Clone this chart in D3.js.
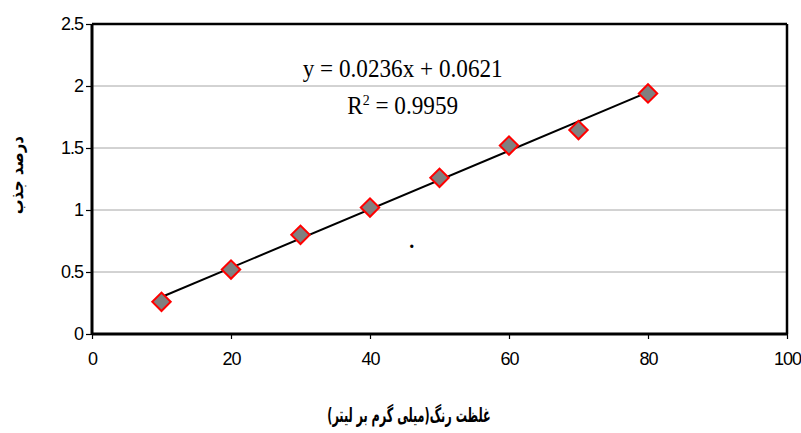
<!DOCTYPE html>
<html>
<head>
<meta charset="utf-8">
<script src="https://cdn.jsdelivr.net/npm/d3@7"></script>
<style>
  body { margin: 0; background: #fff; }
  svg { display: block; }
</style>
</head>
<body>
<svg width="801" height="433"></svg>
<script>
'use strict'

// concentration (mg/L) and absorbance (%)
var concentrations = [10, 20, 30, 40, 50, 60, 70, 80];
var absorbance = [0.26, 0.52, 0.80, 1.02, 1.26, 1.52, 1.645, 1.94];

var xTicks = [0, 20, 40, 60, 80, 100];
var yTicks = [0, 0.5, 1, 1.5, 2, 2.5];

// trendline as printed on the chart
var slope = 0.0236, intercept = 0.0621;
var equationText = "y = 0.0236x + 0.0621";
var r2Value = "0.9959";

var xLabel = "غلظت رنگ(میلی گرم بر لیتر)";
var yLabel = "درصد جذب";

var svg = d3.select("svg"),
  margin = { top: 24, right: 14, bottom: 99, left: 92 },
  width = +svg.attr("width") - margin.left - margin.right,
  height = +svg.attr("height") - margin.top - margin.bottom;

var x = d3.scaleLinear().domain([0, 100]).range([0, width]),
  y = d3.scaleLinear().domain([0, 2.5]).range([height, 0]);

var g = svg.append("g")
  .attr("transform", "translate(" + margin.left + "," + margin.top + ")");

// grid lines
g.selectAll(".grid")
  .data(yTicks.filter(function(d) { return d > 0 && d < 2.5; }))
  .enter()
  .append("line")
  .attr("class", "grid")
  .attr("x1", 0)
  .attr("x2", width)
  .attr("y1", function(d) { return y(d); })
  .attr("y2", function(d) { return y(d); })
  .attr("stroke", "#a6a6a6")
  .attr("stroke-width", 1);

// frame top / right
g.append("line")
  .attr("x1", 0).attr("x2", width)
  .attr("y1", 0).attr("y2", 0)
  .attr("stroke", "#000").attr("stroke-width", 2.5);
g.append("line")
  .attr("x1", width).attr("x2", width)
  .attr("y1", 0).attr("y2", height)
  .attr("stroke", "#000").attr("stroke-width", 2.5);

var xAxis = d3.axisBottom(x).tickValues(xTicks).tickSize(5).tickPadding(13)
  .tickFormat(d3.format("d"));
var yAxis = d3.axisLeft(y).tickValues(yTicks).tickSize(6).tickPadding(3)
  .tickFormat(function(d) { return d3.format("")(d); });

var gx = g.append("g")
  .attr("transform", "translate(0," + height + ")")
  .call(xAxis);
var gy = g.append("g").call(yAxis);

[gx, gy].forEach(function(a) {
  a.attr("font-family", "'Liberation Sans', Arial, sans-serif")
    .attr("font-size", 18);
  a.select(".domain").attr("stroke", "#000").attr("stroke-width", 3);
  a.selectAll(".tick line").attr("stroke", "#000").attr("stroke-width", 1.2);
  a.selectAll(".tick text").attr("fill", "#000").attr("letter-spacing", "-1px");
});
gy.select(".domain").attr("d", "M0," + height + "V0");
gx.select(".domain").attr("d", "M0,0H" + width);

// trendline
var xs = d3.extent(concentrations);
g.append("line")
  .attr("x1", x(xs[0]))
  .attr("y1", y(slope * xs[0] + intercept))
  .attr("x2", x(xs[1]))
  .attr("y2", y(slope * xs[1] + intercept))
  .attr("stroke", "#000")
  .attr("stroke-width", 2);

// diamond markers
var diamond = d3.symbol().type(d3.symbolSquare).size(170);
g.selectAll(".pt")
  .data(concentrations)
  .enter()
  .append("path")
  .attr("class", "pt")
  .attr("d", diamond)
  .attr("transform", function(d, i) {
    return "translate(" + x(d) + "," + y(absorbance[i]) + ") rotate(45)";
  })
  .attr("fill", "#808080")
  .attr("stroke", "#ff0000")
  .attr("stroke-width", 2);

// equation
var eq = g.append("text")
  .attr("x", x(44.7))
  .attr("y", 53)
  .attr("text-anchor", "middle")
  .style("font-family", "'Liberation Serif', 'Times New Roman', serif")
  .style("font-size", "25px")
  .attr("textLength", 200)
  .attr("lengthAdjust", "spacingAndGlyphs")
  .text(equationText);

var r2 = g.append("text")
  .attr("x", x(44.7))
  .attr("y", 90)
  .attr("text-anchor", "middle")
  .style("font-family", "'Liberation Serif', 'Times New Roman', serif")
  .style("font-size", "25px")
  .attr("textLength", 111)
  .attr("lengthAdjust", "spacingAndGlyphs");
r2.append("tspan").text("R");
r2.append("tspan").attr("dy", -9).style("font-size", "15px").text("2");
r2.append("tspan").attr("dy", 9).text(" = " + r2Value);

// stray dot in the plot
g.append("text")
  .attr("x", x(46))
  .attr("y", y(0.69))
  .attr("text-anchor", "middle")
  .style("font-family", "'Liberation Serif', serif")
  .style("font-size", "20px")
  .style("font-weight", "bold")
  .text(".");

// axis titles
svg.append("text")
  .attr("transform", "translate(" + (margin.left + x(45.6)) + ",422) scale(0.56,1)")
  .attr("text-anchor", "middle")
  .style("font-family", "'DejaVu Sans', sans-serif")
  .style("font-weight", "bold")
  .style("font-size", "20px")
  .attr("direction", "rtl")
  .text(xLabel);

svg.append("text")
  .attr("transform", "translate(23," + (margin.top + y(1.28)) + ") rotate(-90) scale(0.87,1)")
  .attr("text-anchor", "middle")
  .style("font-family", "'DejaVu Sans', sans-serif")
  .style("font-weight", "bold")
  .style("font-size", "17px")
  .attr("direction", "rtl")
  .text(yLabel);
</script>
</body>
</html>
